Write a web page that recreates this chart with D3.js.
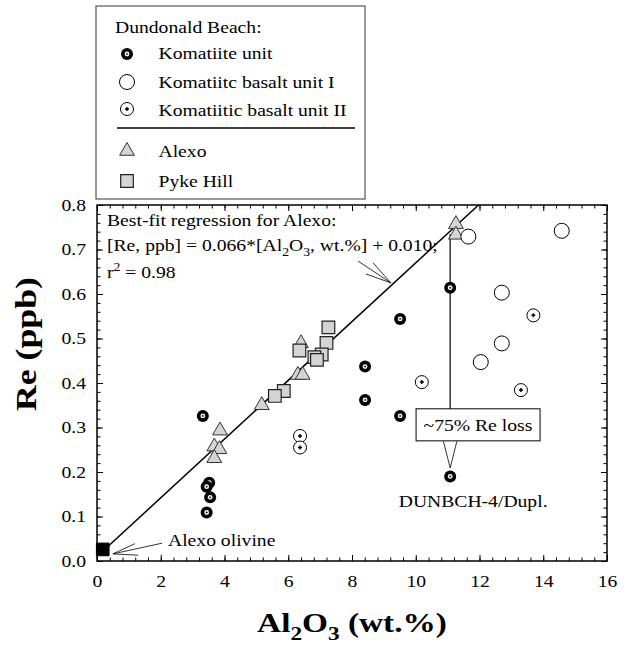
<!DOCTYPE html>
<html>
<head>
<meta charset="utf-8">
<script src="https://cdn.jsdelivr.net/npm/d3@7"></script>
<style>
  body { margin: 0; background: #fff; }
</style>
</head>
<body>
<svg id="chart" width="629" height="649"></svg>
<script>
// Al2O3 (wt.%) vs Re (ppb), pairs
const komatiiteUnit = [[3.32, 0.326], [3.52, 0.176], [3.44, 0.167], [3.55, 0.143], [3.44, 0.109],
    [8.41, 0.437], [8.41, 0.362], [9.51, 0.544], [9.51, 0.326], [11.08, 0.614], [11.08, 0.19]]
const basaltUnitI = [[11.65, 0.729], [14.58, 0.742], [12.70, 0.603], [12.70, 0.489], [12.04, 0.447]]
const basaltUnitII = [[13.69, 0.552], [10.19, 0.402], [13.30, 0.384], [6.37, 0.281], [6.37, 0.255]]
const alexo = [[6.40, 0.489], [6.30, 0.418], [6.45, 0.418], [5.17, 0.35], [3.86, 0.293],
    [3.68, 0.257], [3.84, 0.251], [3.68, 0.231], [11.26, 0.757], [11.26, 0.733]]
const pykeHill = [[7.26, 0.525], [7.20, 0.49], [6.35, 0.473], [7.05, 0.464], [6.82, 0.458],
    [6.9, 0.452], [5.86, 0.382], [5.58, 0.371]]
const alexoOlivine = [[0.18, 0.026]]

const fit = { slope: 0.066, intercept: 0.010 }
const xTicks = [0, 2, 4, 6, 8, 10, 12, 14, 16]
const yTicks = [0, 0.1, 0.2, 0.3, 0.4, 0.5, 0.6, 0.7, 0.8]
const legendItems = ["Komatiite unit", "Komatiitc basalt unit I", "Komatiitic basalt unit II", "Alexo", "Pyke Hill"]

const FONT = "'Liberation Serif','Times New Roman',Times,serif"
const SX = 1.19   // the source font is set wide
const grey = "#d4d4d4"

const layout = { left: 97, top: 205, width: 510, height: 356 }

const svg = d3.select("#chart")

const x = d3.scaleLinear().domain([0, 16]).range([layout.left, layout.left + layout.width])
const y = d3.scaleLinear().domain([0, 0.8]).range([layout.top + layout.height, layout.top])

const addText = (parent, px, py, anchor, size, weight, rot) =>
    parent.append("text")
        .attr("transform", `translate(${px},${py})` + (rot ? ` rotate(${rot})` : "") + ` scale(${SX},1)`)
        .attr("text-anchor", anchor)
        .attr("font-family", FONT)
        .attr("font-size", size)
        .attr("font-weight", weight || "normal")
        .attr("fill", "#000")

// parts: [text, "sub" | "sup" | null]
const rich = (sel, size, parts) => {
    let shift = 0
    parts.forEach(([s, kind]) => {
        const target = kind === "sub" ? size * 0.3 : kind === "sup" ? -size * 0.4 : 0
        sel.append("tspan")
            .attr("dy", target - shift)
            .attr("font-size", kind ? size * 0.7 : size)
            .text(s)
        shift = target
    })
    return sel
}

// ---- axes (ticks pointing inward on all four sides)
const bottom = layout.top + layout.height
const right = layout.left + layout.width
const xMinor = d3.range(0, 16.001, 0.4).map(v => +v.toFixed(1))
const yMinor = d3.range(0, 0.8001, 0.02).map(v => +v.toFixed(2))

const axisG = svg.append("g").attr("class", "axes")

const styleAxis = g => {
    g.select(".domain").remove()
    g.selectAll("line").attr("stroke", "#000").attr("stroke-width", 1)
}

axisG.append("g").attr("transform", `translate(0,${bottom})`)
    .call(d3.axisBottom(x).tickValues(xMinor).tickSize(-3.5).tickFormat(""))
    .call(styleAxis)
axisG.append("g").attr("transform", `translate(0,${layout.top})`)
    .call(d3.axisTop(x).tickValues(xMinor).tickSize(-3.5).tickFormat(""))
    .call(styleAxis)
axisG.append("g").attr("transform", `translate(${layout.left},0)`)
    .call(d3.axisLeft(y).tickValues(yMinor).tickSize(-3.5).tickFormat(""))
    .call(styleAxis)
axisG.append("g").attr("transform", `translate(${right},0)`)
    .call(d3.axisRight(y).tickValues(yMinor).tickSize(-3.5).tickFormat(""))
    .call(styleAxis)

const xAxis = axisG.append("g").attr("transform", `translate(0,${bottom})`)
    .call(d3.axisBottom(x).tickValues(xTicks).tickSize(-6).tickPadding(14).tickFormat(d3.format("d")))
    .call(styleAxis)
xAxis.selectAll("text")
    .attr("font-family", FONT).attr("font-size", 16.5).attr("fill", "#000")
    .attr("transform", `scale(${SX},1)`)

const yAxis = axisG.append("g").attr("transform", `translate(${layout.left},0)`)
    .call(d3.axisLeft(y).tickValues(yTicks).tickSize(-6).tickPadding(11).tickFormat(d3.format(".1f")))
    .call(styleAxis)
yAxis.selectAll("text")
    .attr("font-family", FONT).attr("font-size", 16.5).attr("fill", "#000")
    .attr("x", -11 / SX)
    .attr("transform", `scale(${SX},1)`)

axisG.append("g").attr("transform", `translate(0,${layout.top})`)
    .call(d3.axisTop(x).tickValues(xTicks).tickSize(-6).tickFormat(""))
    .call(styleAxis)
axisG.append("g").attr("transform", `translate(${right},0)`)
    .call(d3.axisRight(y).tickValues(yTicks).tickSize(-6).tickFormat(""))
    .call(styleAxis)

axisG.append("rect")
    .attr("x", layout.left).attr("y", layout.top)
    .attr("width", layout.width).attr("height", layout.height)
    .attr("fill", "none").attr("stroke", "#000").attr("stroke-width", 1.5)

// ---- axis titles
rich(addText(svg, x(8), 632, "middle", 28, "bold"), 28,
    [["Al", null], ["2", "sub"], ["O", null], ["3", "sub"], [" (wt.%)", null]])
addText(svg, 36, 344, "middle", 30, "bold", -90).text("Re (ppb)")

// ---- lines and annotations
const ann = svg.append("g")

const xEnd = (0.8 - fit.intercept) / fit.slope
ann.append("line")
    .attr("x1", x(alexoOlivine[0][0])).attr("y1", y(fit.slope * alexoOlivine[0][0] + fit.intercept))
    .attr("x2", x(xEnd)).attr("y2", y(0.8))
    .attr("stroke", "#000").attr("stroke-width", 1.5)

// Re loss: drop from the fitted value to DUNBCH-4
const lossX = 11.08
ann.append("line")
    .attr("x1", x(lossX)).attr("y1", y(0.735))
    .attr("x2", x(lossX)).attr("y2", y(0.342))
    .attr("stroke", "#333").attr("stroke-width", 1.5)

const arrow = (tip, ends) => ends.forEach(e =>
    ann.append("line")
        .attr("x1", x(e[0])).attr("y1", y(e[1]))
        .attr("x2", x(tip[0])).attr("y2", y(tip[1]))
        .attr("stroke", "#000").attr("stroke-width", 0.8))

arrow([11.08, 0.209], [[10.87, 0.269], [11.29, 0.269]])
arrow([9.22, 0.625], [[8.19, 0.674], [8.66, 0.670], [8.44, 0.645]])
arrow([0.50, 0.016], [[2.04, 0.040], [1.19, 0.039], [1.29, 0.013]])

ann.append("rect")
    .attr("x", x(10.01)).attr("y", y(0.342))
    .attr("width", x(13.9) - x(10.01)).attr("height", y(0.27) - y(0.342))
    .attr("fill", "#fff").attr("stroke", "#000").attr("stroke-width", 1)
addText(ann, x(11.95), 431, "middle", 16.5).text("~75% Re loss")
addText(ann, x(11.8), 507, "middle", 16.5).text("DUNBCH-4/Dupl.")
addText(ann, 168, 546, "start", 16.5).text("Alexo olivine")

addText(ann, 107, 226, "start", 16.5).text("Best-fit regression for Alexo:")
rich(addText(ann, 107, 251, "start", 16.5), 16.5,
    [["[Re, ppb] = 0.066*[Al", null], ["2", "sub"], ["O", null], ["3", "sub"], [", wt.%] + 0.010;", null]])
rich(addText(ann, 107, 278, "start", 16.5), 16.5,
    [["r", null], ["2", "sup"], [" = 0.98", null]])

// ---- symbols
const tri = d3.symbol(d3.symbolTriangle, 95)()
const sq = d3.symbol(d3.symbolSquare, 160)()

const drawers = {
    alexo: g => g.append("path").attr("d", tri).attr("fill", grey).attr("stroke", "#333").attr("stroke-width", 1),
    pyke: g => g.append("path").attr("d", sq).attr("fill", grey).attr("stroke", "#222").attr("stroke-width", 1.2),
    olivine: g => g.append("path").attr("d", sq).attr("fill", "#000").attr("stroke", "#000"),
    komatiite: g => {
        g.append("circle").attr("r", 6).attr("fill", "#000")
        g.append("circle").attr("r", 2.4).attr("fill", "#fff")
        g.append("path").attr("d", "M-1.2,0H1.2M0,-1.2V1.2").attr("stroke", "#000").attr("stroke-width", 0.7)
    },
    basaltI: g => g.append("circle").attr("r", 7.5).attr("fill", "#fff").attr("stroke", "#000").attr("stroke-width", 1),
    basaltII: g => {
        g.append("circle").attr("r", 6.5).attr("fill", "#fff").attr("stroke", "#000").attr("stroke-width", 1)
        g.append("path").attr("d", "M-2,0H2M0,-2V2").attr("stroke", "#000").attr("stroke-width", 1.5)
    }
}

const series = [
    ["alexo", alexo], ["pyke", pykeHill], ["olivine", alexoOlivine],
    ["basaltI", basaltUnitI], ["basaltII", basaltUnitII], ["komatiite", komatiiteUnit]
]

const pts = svg.append("g")
series.forEach(([kind, data]) => {
    pts.selectAll(`g.${kind}`)
        .data(data)
        .join("g")
        .attr("class", kind)
        .attr("transform", d => `translate(${x(d[0])},${y(d[1])})`)
        .each(function () { drawers[kind](d3.select(this)) })
})

// ---- legend
const leg = svg.append("g")
leg.append("rect")
    .attr("x", 96).attr("y", 6).attr("width", 269).attr("height", 193)
    .attr("fill", "#fff").attr("stroke", "#555").attr("stroke-width", 1.2)
addText(leg, 115, 33, "start", 16.5).text("Dundonald Beach:")

const legKinds = ["komatiite", "basaltI", "basaltII", "alexo", "pyke"]
const legSym = [54, 82, 109, 151, 181]
const legBase = [59, 88, 116, 157, 187]
legKinds.forEach((k, i) => {
    const g = leg.append("g").attr("transform", `translate(127,${legSym[i]})`)
    drawers[k](g)
    addText(leg, 158.5, legBase[i], "start", 16.5).text(legendItems[i])
})
leg.append("line")
    .attr("x1", 117).attr("x2", 355).attr("y1", 128).attr("y2", 128)
    .attr("stroke", "#000").attr("stroke-width", 1.5)
</script>
</body>
</html>
